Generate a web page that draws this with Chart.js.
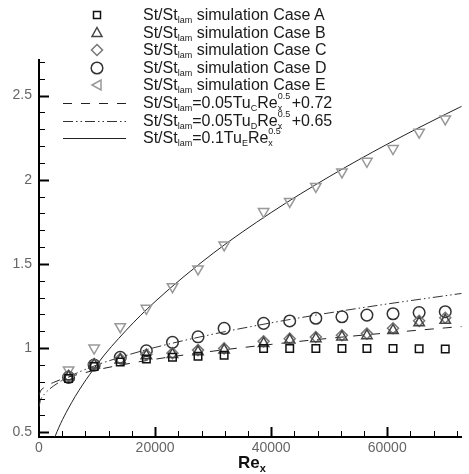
<!DOCTYPE html>
<html>
<head>
<meta charset="utf-8">
<script src="https://cdn.jsdelivr.net/npm/chart.js@4/dist/chart.umd.min.js"></script>
<style>
  html, body { margin: 0; padding: 0; background: #fff; }
  #wrap { position: relative; width: 469px; height: 474px; overflow: hidden; font-family: "Liberation Sans", Arial, Helvetica, sans-serif; }
  #chart { position: absolute; left: 0; top: 0; }
  .leg { position: absolute; left: 0; height: 18px; width: 469px; color: #1a1a1a; font-size: 16px; line-height: 18px; }
  .leg svg { position: absolute; left: 60px; top: 0; }
  .leg .txt { position: absolute; left: 143px; top: 0; white-space: nowrap; }
  .leg sub { font-size: 9px; vertical-align: -3px; line-height: 0; }
  .ss { position: relative; display: inline-block; width: 14px; height: 10px; font-size: 9px; }
  .ss .up { position: absolute; left: 0; top: -6px; line-height: 9px; }
  .ss .dn { position: absolute; left: 0; top: 6px; line-height: 9px; }
  #xtitle { position: absolute; left: 238px; top: 453px; font-size: 17px; font-weight: bold; color: #111; }
  #xtitle sub { font-size: 11px; vertical-align: -4px; line-height: 0; }
</style>
</head>
<body>
<div id="wrap">
  <canvas id="chart" width="469" height="474"></canvas>
  <div id="legend"></div>
  <div id="xtitle">Re<sub>x</sub></div>
</div>
<script>
// simulation samples
const reX   = [5100, 9500, 14000, 18500, 23000, 27400, 31900, 38700, 43200, 47700, 52200, 56500, 61000, 65500, 70000];
const caseA = [0.82, 0.89, 0.918, 0.935, 0.945, 0.952, 0.958, 0.998, 0.998, 0.998, 0.998, 0.998, 0.998, 0.996, 0.994];
const caseB = [0.83, 0.90, 0.93, 0.955, 0.962, 0.978, 0.988, 1.028, 1.048, 1.056, 1.066, 1.074, 1.105, 1.15, 1.165];
const caseC = [0.835, 0.905, 0.937, 0.962, 0.97, 0.988, 0.998, 1.04, 1.056, 1.066, 1.076, 1.086, 1.118, 1.162, 1.18];
const caseD = [0.826, 0.899, 0.945, 0.984, 1.034, 1.067, 1.117, 1.147, 1.161, 1.177, 1.186, 1.196, 1.204, 1.211, 1.216];
const caseE = [0.87, 1.0, 1.127, 1.236, 1.365, 1.47, 1.613, 1.811, 1.871, 1.96, 2.046, 2.109, 2.185, 2.282, 2.361];

// correlation curves
const curveX  = [0, 250, 1000, 2500, 5000, 10000, 15000, 20000, 30000, 40000, 50000, 60000, 70000, 75000];
const dashedY = [0.72, 0.744, 0.768, 0.796, 0.827, 0.871, 0.905, 0.934, 0.982, 1.022, 1.058, 1.09, 1.12, 1.134];
const dotDshY = [0.65, 0.69, 0.729, 0.775, 0.827, 0.90, 0.956, 1.004, 1.083, 1.15, 1.209, 1.262, 1.311, 1.335];
const solidY  = [0.0, 0.143, 0.285, 0.451, 0.638, 0.903, 1.105, 1.276, 1.563, 1.805, 2.018, 2.211, 2.388, 2.472];

const xTicks = [0, 20000, 40000, 60000];
const yTicks = [0.5, 1, 1.5, 2, 2.5];

const pts = (xs, ys) => xs.map((x, i) => ({ x: x, y: ys[i] }));

function marker(label, data, style, color, radius, rotation) {
  return {
    label: label, data: data, showLine: false,
    pointStyle: style, pointRadius: radius, pointRotation: rotation || 0,
    pointBorderColor: color, pointBackgroundColor: 'rgba(0,0,0,0)', pointBorderWidth: 1.5
  };
}
function curve(label, data, color, dash) {
  return {
    label: label, data: data, showLine: true, pointRadius: 0,
    borderColor: color, borderWidth: 1, borderDash: dash,
    cubicInterpolationMode: 'monotone'
  };
}

// inward tick marks, major and minor
const innerTicks = {
  id: 'innerTicks',
  afterDraw(chart) {
    const ctx = chart.ctx, xs = chart.scales.x, ys = chart.scales.y;
    const left = chart.chartArea.left, bottom = chart.chartArea.bottom;
    ctx.save();
    ctx.strokeStyle = '#000';
    for (let i = 5; i <= 27; i++) {
      const py = Math.round(ys.getPixelForValue(i / 10)) + 0.5;
      const major = i % 5 === 0;
      ctx.lineWidth = major ? 2 : 1;
      ctx.beginPath();
      ctx.moveTo(left, py);
      ctx.lineTo(left + (major ? 10 : 6), py);
      ctx.stroke();
    }
    for (let i = 1; i <= 18; i++) {
      const px = Math.round(xs.getPixelForValue(i * 4000)) + 0.5;
      const major = i % 5 === 0;
      ctx.lineWidth = major ? 2 : 1;
      ctx.beginPath();
      ctx.moveTo(px, bottom);
      ctx.lineTo(px, bottom - (major ? 10 : 6));
      ctx.stroke();
    }
    ctx.restore();
  }
};

const tickFont = { family: '"Liberation Sans", Arial, sans-serif', size: 14 };

new Chart(document.getElementById('chart'), {
  type: 'scatter',
  data: {
    datasets: [
      marker('Case A', pts(reX, caseA), 'rect', '#111', 5.3),
      marker('Case B', pts(reX, caseB), 'triangle', '#444', 6),
      marker('Case C', pts(reX, caseC), 'rectRot', '#777', 5.5),
      marker('Case D', pts(reX, caseD), 'circle', '#333', 5.8),
      marker('Case E', pts(reX, caseE), 'triangle', '#999', 6, 180),
      curve('dashed', pts(curveX, dashedY), '#222', [9, 9]),
      curve('dashdot', pts(curveX, dotDshY), '#333', [10, 3, 1.5, 3, 1.5, 3]),
      curve('solid', pts(curveX, solidY), '#222', [])
    ]
  },
  options: {
    responsive: false,
    animation: false,
    devicePixelRatio: 1,
    layout: { padding: { top: 60, right: 0, bottom: 0, left: 0 } },
    plugins: { legend: { display: false }, tooltip: { enabled: false } },
    scales: {
      x: {
        type: 'linear', min: 0, max: 72800,
        grid: { display: false, drawTicks: false },
        border: { display: true, color: '#000', width: 2 },
        ticks: { includeBounds: false, padding: 3, color: '#666', font: tickFont, callback: v => String(v) },
        afterBuildTicks: s => { s.ticks = xTicks.map(v => ({ value: v })); },
        afterFit: s => { s.height = 37; }
      },
      y: {
        type: 'linear', min: 0.472, max: 2.711,
        grid: { display: false, drawTicks: false },
        border: { display: true, color: '#000', width: 2 },
        ticks: { includeBounds: false, padding: 7, color: '#666', font: tickFont, callback: v => String(v) },
        afterBuildTicks: s => { s.ticks = yTicks.map(v => ({ value: v })); },
        afterFit: s => { s.width = 39; }
      }
    }
  },
  plugins: [innerTicks]
});

// legend with sub/superscripts as html text
const lam = 'St/St<sub>lam</sub>';
const rex = 'Re<span class="ss"><span class="up">0.5</span><span class="dn">x</span></span>';
const legendRows = [
  { sym: '<rect x="33.5" y="5.5" width="7" height="7" fill="none" stroke="#111" stroke-width="1.5"/>', txt: lam + ' simulation Case A' },
  { sym: '<polygon points="37,3.5 42,12.5 32,12.5" fill="none" stroke="#444" stroke-width="1.5"/>', txt: lam + ' simulation Case B' },
  { sym: '<polygon points="37,3.5 42.5,9 37,14.5 31.5,9" fill="none" stroke="#777" stroke-width="1.5"/>', txt: lam + ' simulation Case C' },
  { sym: '<circle cx="37" cy="9" r="5.8" fill="none" stroke="#333" stroke-width="1.5"/>', txt: lam + ' simulation Case D' },
  { sym: '<polygon points="32,9 41,4 41,14" fill="none" stroke="#999" stroke-width="1.5"/>', txt: lam + ' simulation Case E' },
  { sym: '<line x1="3" y1="9.5" x2="66" y2="9.5" stroke="#222" stroke-width="1" stroke-dasharray="9 9"/>', txt: lam + '=0.05Tu<sub>C</sub>' + rex + '+0.72' },
  { sym: '<line x1="3" y1="9.5" x2="66" y2="9.5" stroke="#333" stroke-width="1" stroke-dasharray="10 3 1.5 3 1.5 3"/>', txt: lam + '=0.05Tu<sub>D</sub>' + rex + '+0.65' },
  { sym: '<line x1="3" y1="9.5" x2="66" y2="9.5" stroke="#222" stroke-width="1"/>', txt: lam + '=0.1Tu<sub>E</sub>' + rex }
];
const legend = document.getElementById('legend');
legendRows.forEach((r, i) => {
  const row = document.createElement('div');
  row.className = 'leg';
  row.style.top = (6 + i * 17.6) + 'px';
  row.innerHTML = '<svg width="70" height="18">' + r.sym + '</svg><span class="txt">' + r.txt + '</span>';
  legend.appendChild(row);
});
</script>
</body>
</html>
